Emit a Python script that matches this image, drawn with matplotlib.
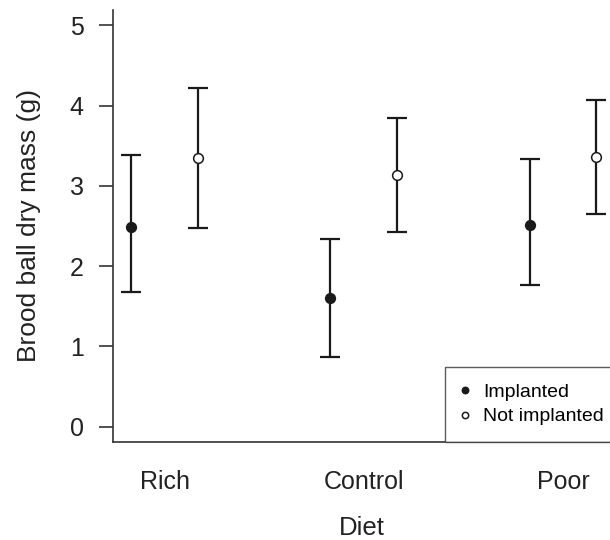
import matplotlib
matplotlib.use("Agg")
import matplotlib.pyplot as plt
import numpy as np

plt.rcParams['font.family'] = ['Liberation Sans', 'DejaVu Sans']

diets = ["Rich", "Control", "Poor"]
implanted_mean = [2.49, 1.60, 2.51]
implanted_low = [1.68, 0.87, 1.77]
implanted_high = [3.39, 2.34, 3.33]
notimpl_mean = [3.35, 3.14, 3.36]
notimpl_low = [2.48, 2.42, 2.65]
notimpl_high = [4.22, 3.85, 4.07]
yticks = [0, 1, 2, 3, 4, 5]

fig = plt.figure(figsize=(6.1, 5.4), dpi=100)
ax = fig.add_axes([0.185, 0.1815, 0.815, 0.8])

x = np.arange(1, len(diets) + 1)
off = 0.168
col = '#1a1a1a'
tcol = '#222222'

def draw(xpos, mean, low, high, face, label):
    mean = np.array(mean); low = np.array(low); high = np.array(high)
    ax.errorbar(xpos, mean, yerr=[mean - low, high - mean], fmt='none',
                ecolor=col, elinewidth=1.6, capsize=7, capthick=1.6, zorder=2)
    ax.plot(xpos, mean, 'o', markersize=7, markerfacecolor=face,
            markeredgecolor=col, markeredgewidth=1.1, linestyle='none',
            label=label, zorder=3)

draw(x - off, implanted_mean, implanted_low, implanted_high, col, "Implanted")
draw(x + off, notimpl_mean, notimpl_low, notimpl_high, 'white', "Not implanted")

ax.set_xlim(0.739, 3.236)
ax.set_ylim(-0.19, 5.19)
ax.set_yticks(yticks)
ax.set_xticks(x)
ax.set_xticklabels(diets)
ax.tick_params(axis='x', length=0, pad=20, labelsize=18, colors=tcol)
ax.tick_params(axis='y', length=10, width=1.1, pad=11, labelsize=18,
               colors=tcol, direction='out')
for s in ['top', 'right']:
    ax.spines[s].set_visible(False)
for s in ['left', 'bottom']:
    ax.spines[s].set_color('#333333')
    ax.spines[s].set_linewidth(1.2)

ax.set_ylabel("Brood ball dry mass (g)", fontsize=19, color=tcol, labelpad=21)
ax.set_xlabel("Diet", fontsize=18.5, color=tcol, labelpad=16)

leg = ax.legend(loc='lower left', bbox_to_anchor=(0.668, 0.0), borderaxespad=0,
                fontsize=14, frameon=True, fancybox=False, handletextpad=0.7,
                handlelength=0.4, borderpad=0.85, labelspacing=0.35,
                markerscale=0.65)
leg.get_frame().set_edgecolor('#333333')
leg.get_frame().set_linewidth(1.0)

fig.savefig("out.png", dpi=100)
